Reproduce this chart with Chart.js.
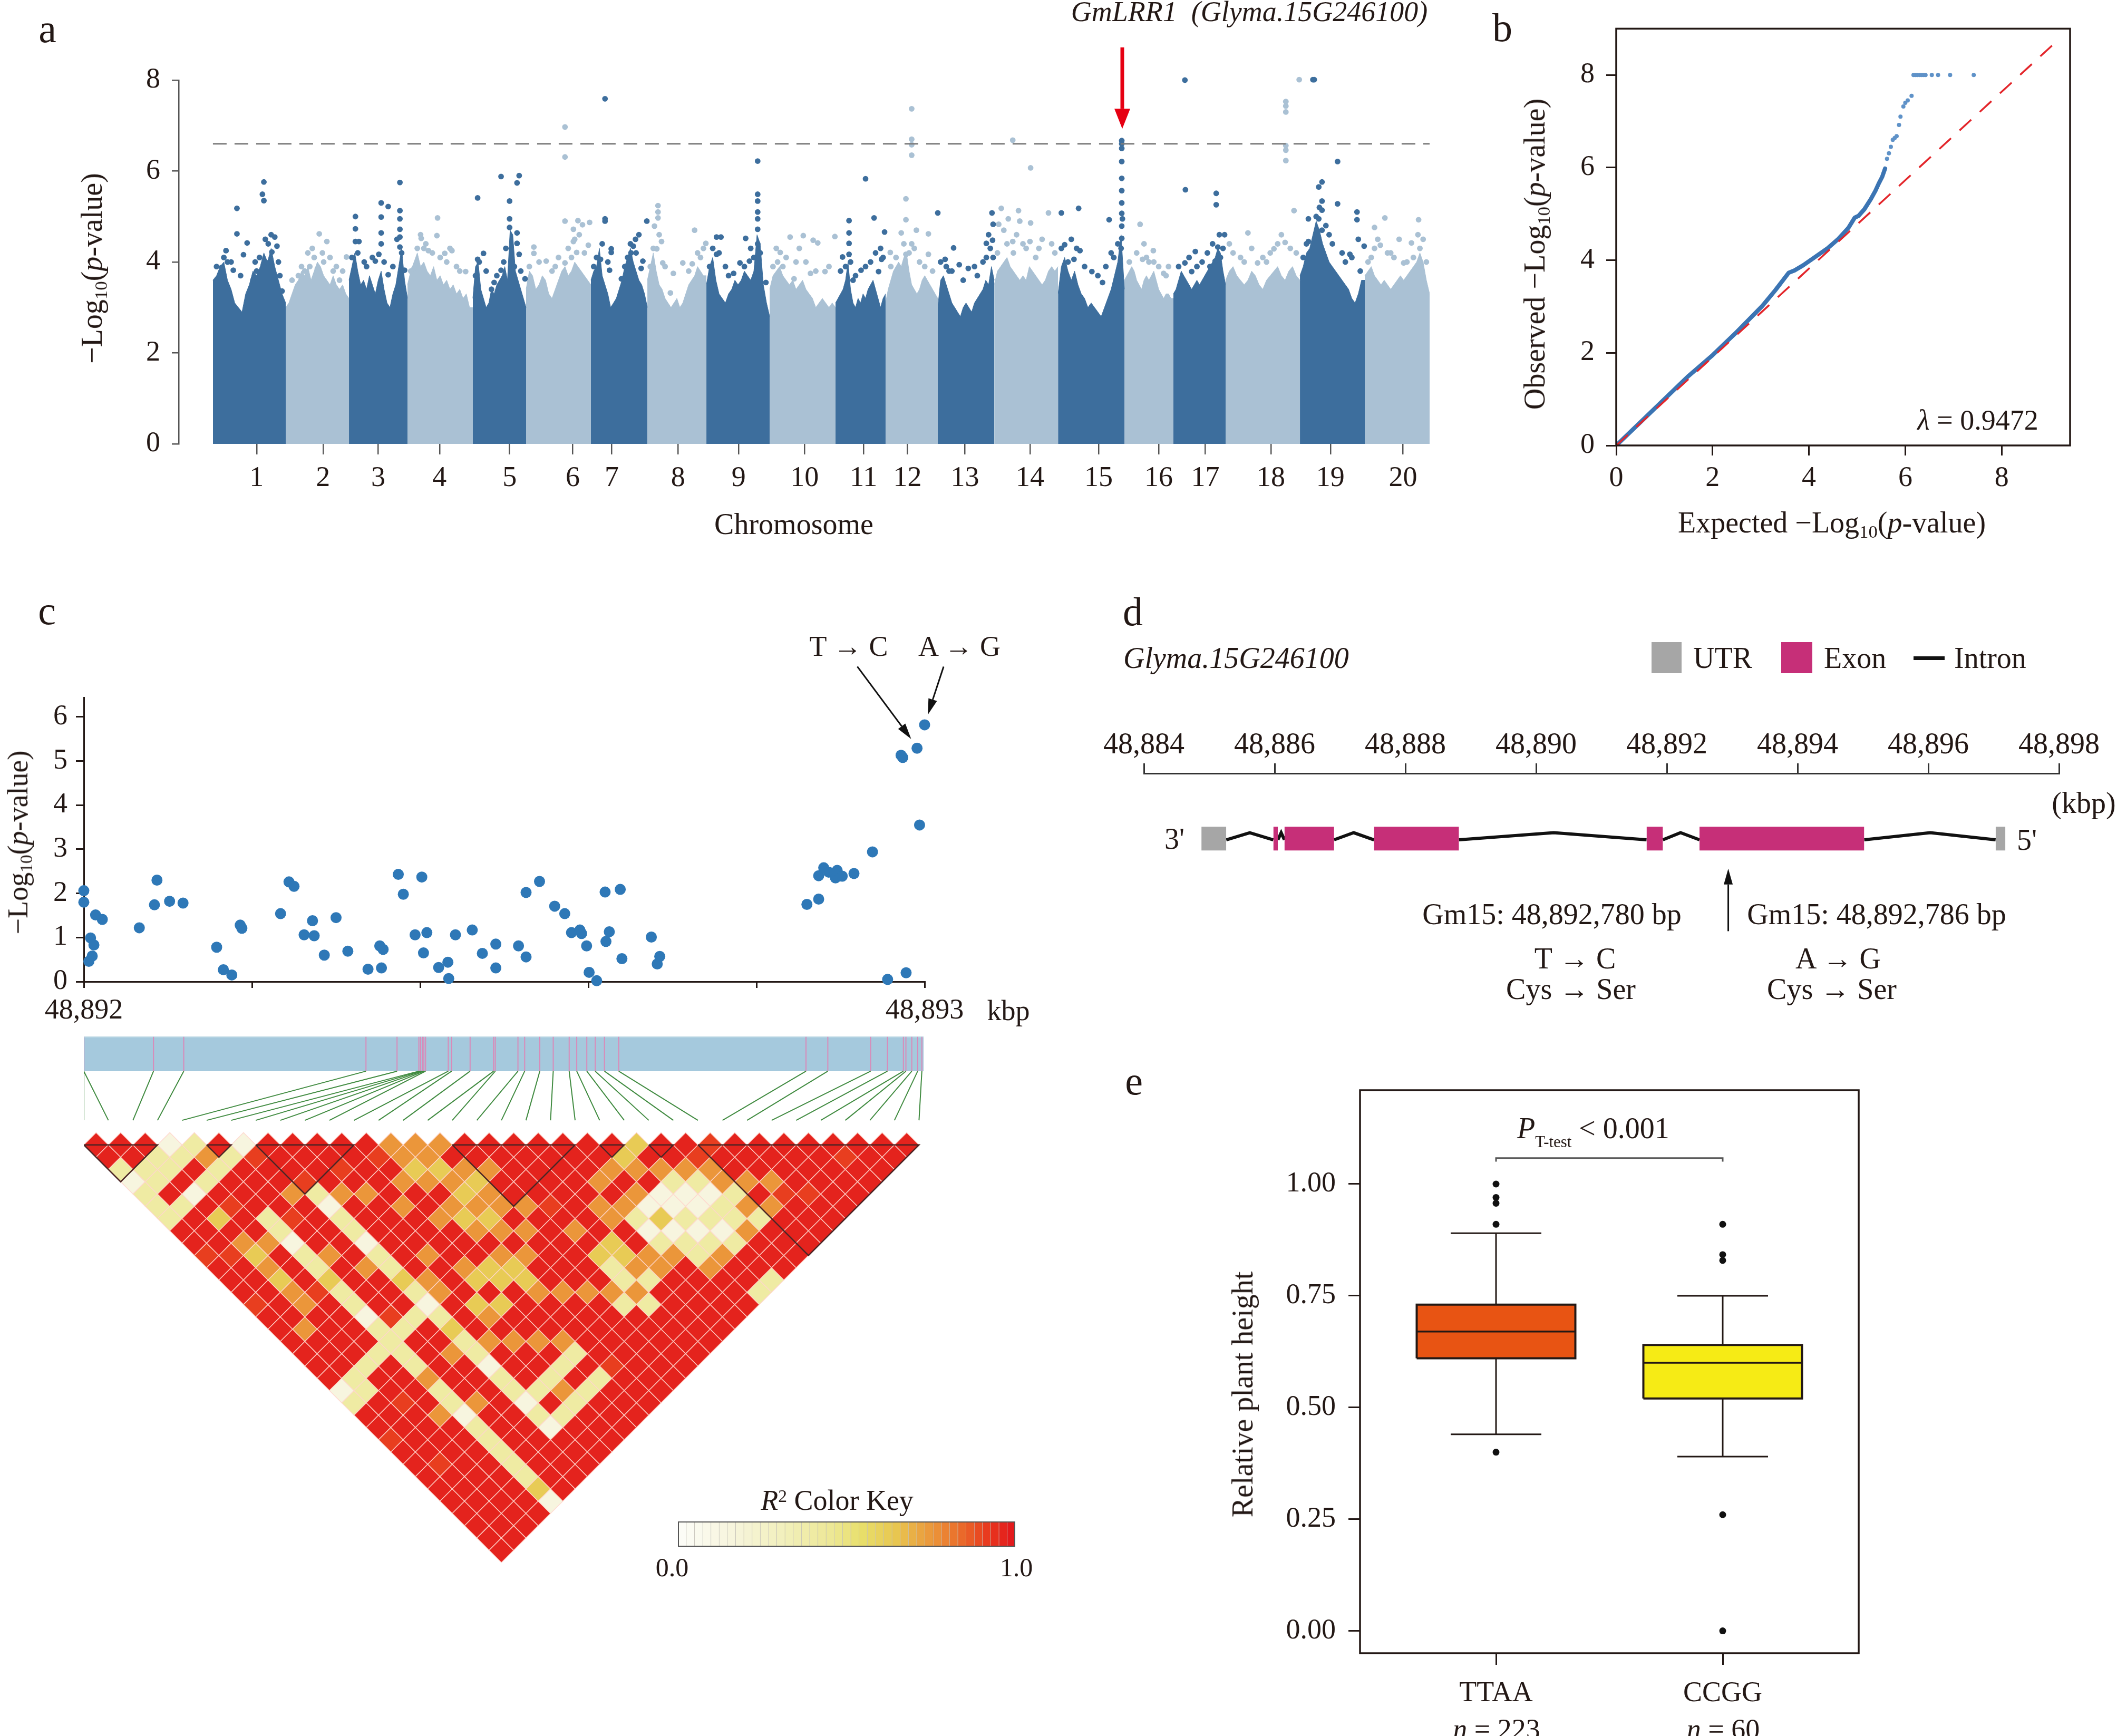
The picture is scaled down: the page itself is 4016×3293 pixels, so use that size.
<!DOCTYPE html>
<html>
<head>
<meta charset="utf-8">
<script src="https://cdn.jsdelivr.net/npm/chart.js@4.4.1/dist/chart.umd.min.js"></script>
<style>
html, body { margin: 0; padding: 0; background: #fff; }
#page { position: relative; width: 4016px; height: 3293px; overflow: hidden; background: #fff;
        font-family: 'Liberation Serif', 'Times New Roman', serif; color: #231815; }
canvas { position: absolute; }
.t { position: absolute; white-space: nowrap; line-height: 1; }
.t sub { font-size: 0.62em; vertical-align: -0.28em; line-height: 0; }
.t sup { font-size: 0.62em; vertical-align: 0.45em; line-height: 0; }
.t sub.s2 { font-size: 0.55em; vertical-align: -0.55em; }
.sw { position: absolute; }
</style>
</head>
<body>
<div id="page"></div>
<script>
// ---- panel a : Manhattan plot ----
const chrNames = ['1','2','3','4','5','6','7','8','9','10','11','12','13','14','15','16','17','18','19','20'];
const chrLen = [56.6, 49.2, 45.5, 50.8, 41.4, 50.4, 43.9, 45.9, 49.2, 51.2, 38.9, 40.6, 43.9, 49.6, 51.6, 38.1, 40.6, 57.8, 50.4, 50.4];
const chrTickFrac = [0.6, 0.59, 0.5, 0.49, 0.69, 0.72, 0.37, 0.52, 0.51, 0.53, 0.56, 0.42, 0.48, 0.56, 0.61, 0.7, 0.61, 0.61, 0.47, 0.59];
// top edge of the dense band, 21 samples along each chromosome
const chrEnvelope = [
  [3.6,3.7,3.9,4.0,3.6,3.4,3.1,3.0,2.9,3.3,3.5,3.8,3.7,3.9,4.2,4.0,4.3,3.9,3.6,3.3,3.1],
  [3.0,3.1,3.3,3.5,3.6,3.8,3.7,3.9,3.6,3.8,4.0,3.9,3.7,3.6,3.5,3.7,3.5,3.4,3.5,3.3,3.2],
  [3.6,3.9,4.2,3.8,3.5,3.6,3.4,3.7,3.5,3.3,3.6,3.8,3.4,3.1,3.0,3.3,3.5,3.9,4.3,3.6,3.2],
  [3.5,3.8,4.0,4.2,3.9,4.0,3.8,3.7,3.9,3.6,3.7,3.5,3.6,3.4,3.5,3.3,3.4,3.2,3.3,3.0,3.0],
  [3.2,3.9,4.0,3.4,3.2,3.0,3.1,3.4,3.3,3.5,3.6,3.7,3.9,3.6,4.7,4.6,3.8,3.6,3.4,3.2,3.0],
  [3.4,3.8,3.7,3.4,3.5,3.7,3.6,3.3,3.2,3.4,3.6,3.8,3.9,3.7,3.8,4.0,3.9,3.8,3.7,3.6,3.5],
  [3.6,3.8,3.9,4.3,3.7,3.5,3.3,3.0,3.1,3.2,3.4,3.6,3.9,4.1,4.3,4.0,3.8,3.6,3.5,3.3,3.0],
  [3.6,3.9,4.2,3.8,3.5,3.4,3.2,3.1,3.0,3.1,3.2,3.0,3.1,3.3,3.5,3.6,3.7,3.9,3.8,3.7,3.7],
  [3.5,3.9,4.1,3.6,3.3,3.2,3.1,3.3,3.4,3.6,3.5,3.6,3.8,3.7,3.6,3.8,4.6,4.4,3.5,3.1,2.8],
  [3.4,3.7,3.8,3.9,3.7,3.6,3.5,3.6,3.4,3.5,3.6,3.4,3.3,3.2,3.0,3.1,3.2,3.1,3.0,3.1,3.0],
  [3.1,3.2,3.3,3.4,3.6,4.0,3.4,3.1,3.0,3.2,3.1,3.3,3.2,3.4,3.5,3.6,3.4,3.2,3.0,3.2,3.3],
  [3.1,3.4,3.6,3.8,3.9,4.0,3.9,4.1,4.2,3.8,3.5,3.4,3.3,3.4,3.6,3.7,3.6,3.5,3.4,3.3,3.2],
  [3.0,3.6,3.7,3.5,3.3,3.1,3.0,2.9,2.8,3.0,3.1,3.0,2.9,3.1,3.2,3.3,3.4,3.6,3.5,3.9,3.6],
  [3.5,3.8,3.9,4.0,4.1,3.9,3.8,3.7,3.6,3.7,3.6,3.9,3.8,3.7,3.6,3.5,3.6,3.8,3.9,3.8,3.9],
  [3.3,3.9,4.1,3.8,3.6,3.8,3.5,3.3,3.2,3.0,3.1,3.0,2.9,2.8,3.0,3.2,3.4,3.7,4.0,4.6,3.4],
  [3.6,3.7,3.8,3.9,3.8,3.6,3.5,3.4,3.6,3.7,3.6,3.7,3.8,3.6,3.4,3.3,3.2,3.3,3.3,3.2,3.2],
  [3.3,3.4,3.6,3.8,3.7,3.6,3.5,3.4,3.5,3.6,3.5,3.6,3.7,3.8,3.9,4.0,4.1,4.3,4.2,3.8,3.5],
  [3.6,3.8,3.9,3.7,3.6,3.5,3.6,3.8,3.7,3.5,3.4,3.6,3.7,3.8,3.9,3.7,3.6,3.8,3.9,3.7,3.6],
  [3.7,3.9,4.2,4.3,4.6,4.9,4.7,4.4,4.2,4.0,3.9,3.8,3.7,3.6,3.5,3.4,3.2,3.1,3.3,3.6,3.6],
  [3.7,3.8,3.9,3.7,3.6,3.5,3.6,3.5,3.4,3.5,3.6,3.7,3.6,3.7,3.8,3.9,4.0,4.2,4.0,3.6,3.3]
];
// single SNPs above the band: [fraction along chromosome, -log10 p]
const chrPeaks = [
  [[.33,5.18],[.33,4.62],[.70,5.76],[.68,5.49],[.70,5.35],[.47,4.42],[.42,4.16],[.18,4.25],[.85,4.55],[.76,4.4],[.81,4.22],[.75,3.98],[.92,3.7],[.95,3.36],[.12,3.88],[.28,3.82],[.2,4.0],[.6,3.8],[.55,3.6],[.88,4.35],[.05,3.9],[.15,4.1],[.25,4.0],[.38,3.7],[.58,4.0],[.64,4.1],[.72,4.5],[.8,4.6],[.9,4.0]],
  [[.53,4.62],[.65,4.45],[.45,4.1],[.38,3.9],[.3,3.8],[.75,3.8],[.96,4.11],[.6,4.0],[.2,3.7],[.85,3.6],[.5,3.85],[.1,3.6],[.25,3.9],[.35,4.2],[.42,4.3],[.58,4.2],[.7,4.1],[.8,3.9],[.9,3.8]],
  [[.11,5.0],[.11,4.73],[.11,4.45],[.17,4.45],[.55,5.3],[.55,4.99],[.55,4.64],[.67,5.22],[.87,5.75],[.87,5.13],[.87,4.95],[.87,4.72],[.87,4.33],[.51,4.17],[.26,4.0],[.45,4.02],[.67,3.72],[.95,3.82],[.87,4.55],[.55,4.4],[.05,4.1],[.15,4.2],[.3,3.9],[.4,4.1],[.6,4.0],[.75,3.9],[.82,4.5],[.9,4.2]],
  [[.46,4.97],[.45,4.58],[.21,4.52],[.32,4.25],[.68,4.25],[.57,4.19],[.89,3.79],[.1,3.86],[.25,4.3],[.5,4.1],[.75,3.9],[.05,3.8],[.15,4.3],[.2,4.6],[.28,4.4],[.38,4.2],[.6,4.0],[.65,4.3],[.8,3.8]],
  [[.09,5.41],[.53,5.88],[.87,5.9],[.83,5.74],[.69,5.34],[.69,4.95],[.69,4.76],[.83,4.64],[.83,4.41],[.87,4.17],[.2,4.19],[.09,4.06],[.4,3.55],[.53,3.82],[.98,3.63],[.35,3.4],[.45,3.7],[.05,3.7],[.12,4.0],[.25,3.8],[.58,4.0],[.62,4.3],[.73,4.1],[.78,3.9],[.9,3.8]],
  [[.6,6.97],[.6,6.31],[.6,4.9],[.8,4.91],[.73,4.72],[.73,4.45],[.87,4.82],[.98,4.87],[.12,4.33],[.12,4.19],[.31,4.02],[.6,3.98],[.96,4.37],[.78,4.21],[.45,3.9],[.7,4.1],[.05,3.9],[.2,4.0],[.4,3.8],[.5,4.1],[.65,4.3],[.75,4.5],[.82,4.6],[.9,4.2]],
  [[.25,7.59],[.25,4.95],[.25,4.9],[.36,4.29],[.36,4.21],[.17,4.06],[.33,3.82],[.79,4.5],[.71,4.2],[.99,4.9],[.92,4.02],[.89,3.86],[.54,3.63],[.75,4.35],[.6,3.9],[.05,3.9],[.1,4.1],[.2,4.4],[.3,4.0],[.65,4.1],[.7,4.4],[.8,4.2],[.85,4.6]],
  [[.18,5.24],[.18,5.1],[.18,4.97],[.12,4.79],[.24,4.45],[.16,4.29],[.26,3.98],[.8,4.7],[.6,3.98],[.76,3.96],[.99,4.41],[.44,3.75],[.39,3.32],[.9,4.1],[.05,3.9],[.1,4.3],[.2,4.6],[.3,3.9],[.7,3.8],[.85,4.2],[.95,4.3]],
  [[.16,4.55],[.23,4.55],[.81,6.22],[.81,5.49],[.81,5.34],[.81,5.1],[.81,4.95],[.81,4.72],[.62,4.52],[.53,3.98],[.68,4.02],[.43,3.75],[.16,4.17],[.94,3.55],[.81,4.4],[.3,3.9],[.05,3.9],[.1,4.3],[.2,4.2],[.35,3.7],[.6,3.9],[.7,4.3],[.75,4.1],[.85,4.2]],
  [[.16,4.21],[.12,4.0],[.31,4.55],[.51,4.58],[.66,4.48],[.73,4.42],[.99,4.56],[.84,3.79],[.62,3.75],[.37,3.63],[.2,3.9],[.05,3.9],[.1,4.3],[.25,4.1],[.4,4.0],[.45,4.3],[.55,4.0],[.7,3.8],[.9,3.9]],
  [[.6,5.83],[.77,4.97],[.27,4.91],[.27,4.64],[.27,4.41],[.27,4.17],[.14,4.11],[.98,4.66],[.92,4.06],[.86,3.79],[.51,3.82],[.35,3.6],[.9,4.3],[.1,3.8],[.2,3.9],[.3,4.0],[.4,3.7],[.6,3.9],[.7,4.0],[.8,4.2],[.95,4.1]],
  [[.5,7.37],[.5,6.7],[.5,6.58],[.5,6.35],[.39,5.39],[.39,4.93],[.3,4.64],[.59,4.7],[.82,4.62],[.09,4.21],[.82,4.17],[.39,4.17],[.27,3.86],[.5,4.4],[.1,3.9],[.2,4.1],[.35,4.4],[.45,4.2],[.55,4.3],[.65,4.0],[.75,3.9],[.9,3.8]],
  [[.0,5.08],[.28,4.31],[.13,4.06],[.38,3.94],[.54,3.86],[.86,4.41],[.96,5.08],[.98,4.83],[.97,4.48],[.98,4.1],[.86,4.1],[.7,3.7],[.2,3.8],[.05,4.0],[.15,3.9],[.25,3.8],[.45,3.6],[.65,3.9],[.8,4.0],[.9,4.6],[.93,4.3]],
  [[.11,5.18],[.29,6.68],[.57,6.07],[.07,4.83],[.22,4.95],[.38,5.13],[.4,4.9],[.57,4.86],[.85,5.08],[.29,4.45],[.56,4.45],[.15,4.7],[.7,4.3],[.45,4.4],[.95,4.2],[.05,4.2],[.2,4.4],[.3,4.2],[.35,4.6],[.5,4.3],[.65,4.1],[.75,4.5],[.9,4.4]],
  [[.05,5.08],[.31,5.18],[.1,4.38],[.33,4.25],[.24,4.06],[.51,3.79],[.77,4.93],[.96,6.67],[.96,6.6],[.96,6.5],[.96,6.21],[.96,5.84],[.96,5.57],[.96,5.3],[.96,5.07],[.96,4.79],[.96,4.52],[.84,4.1],[.67,3.55],[.6,3.7],[.95,4.3],[.97,4.95],[.05,4.3],[.15,4.0],[.2,4.5],[.28,4.3],[.4,3.9],[.72,3.9],[.8,4.2],[.9,4.4]],
  [[.32,4.83],[.59,4.25],[.37,4.06],[.8,3.75],[.17,3.7],[.5,4.0],[.9,3.9],[.1,4.0],[.25,4.2],[.4,4.4],[.45,4.1],[.6,4.0],[.7,3.9],[.85,3.7]],
  [[.22,8.0],[.23,5.59],[.82,5.51],[.82,5.26],[.98,4.6],[.42,4.23],[.85,4.33],[.8,4.02],[.22,3.98],[.35,3.79],[.7,3.9],[.9,4.1],[.1,3.9],[.3,4.1],[.45,3.9],[.55,4.0],[.65,4.2],[.75,4.4],[.88,4.6],[.95,4.3]],
  [[.81,7.53],[.81,7.43],[.81,7.3],[.81,6.56],[.81,6.46],[.81,6.23],[.99,8.01],[.92,5.13],[.3,4.64],[.8,4.43],[.65,4.29],[.43,3.98],[.05,4.4],[.2,4.1],[.55,4.0],[.1,4.2],[.25,4.0],[.35,4.3],[.5,4.1],[.6,4.2],[.7,4.4],[.75,4.6],[.87,4.3],[.95,4.2]],
  [[.2,8.01],[.22,8.01],[.58,6.21],[.34,5.76],[.29,5.65],[.34,5.34],[.34,5.14],[.58,5.28],[.29,4.95],[.13,4.95],[.88,5.1],[.88,4.93],[.99,4.35],[.77,4.17],[.93,3.8],[.13,4.45],[.45,4.6],[.34,4.7],[.05,4.1],[.1,4.4],[.25,5.0],[.3,5.2],[.4,4.8],[.5,4.4],[.65,4.2],[.7,4.0],[.8,4.1],[.9,4.5]],
  [[.31,4.97],[.15,4.76],[.83,4.93],[.82,4.6],[.53,4.5],[.72,4.42],[.24,4.37],[.6,3.98],[.1,4.1],[.95,4.0],[.4,4.2],[.05,4.0],[.15,4.3],[.2,4.5],[.35,4.2],[.45,4.1],[.65,4.0],[.75,4.1],[.85,4.3],[.9,4.5]]
];
const manhattanTicks = [0, 2, 4, 6, 8];
const gwasThreshold = 6.6;
const leadSnp = { chr: 15, frac: 0.968, tip: 6.93, tail: 8.72 };

// ---- panel b : QQ plot ----
const qqExpected = [0, 0.5, 1.0, 1.5, 2.0, 2.5, 3.03, 3.3, 3.58, 3.7, 3.88, 4.1, 4.39, 4.6, 4.82, 4.95, 5.03, 5.15, 5.29, 5.38, 5.45, 5.52, 5.58];
const qqObserved = [0, 0.5, 1.0, 1.5, 1.95, 2.45, 3.01, 3.35, 3.73, 3.78, 3.89, 4.05, 4.26, 4.45, 4.7, 4.92, 4.96, 5.1, 5.33, 5.5, 5.66, 5.8, 5.98];
const qqTailExp = [5.62, 5.66, 5.7, 5.74, 5.78, 5.82, 5.87, 5.9, 5.96, 6.0, 6.05, 6.13, 6.17, 6.21, 6.25, 6.3, 6.34, 6.38, 6.42, 6.55, 6.68, 6.93, 7.42];
const qqTailObs = [6.19, 6.31, 6.45, 6.6, 6.64, 6.68, 6.92, 7.1, 7.32, 7.4, 7.45, 7.55, 8.0, 8.0, 8.0, 8.0, 8.0, 8.0, 8.0, 8.0, 8.0, 8.0, 8.0];
const qqRefEnd = [9.05, 8.64];
const qqTicks = [0, 2, 4, 6, 8];

// ---- panel c : regional plot (bp after 48,892 kbp) ----
const regionBp = [0,0,14,22,8,12,10,6,66,84,87,102,118,158,166,176,186,188,234,244,250,262,272,274,286,300,314,338,352,356,354,374,380,394,402,404,408,422,433,434,442,462,474,490,490,517,526,526,542,560,572,580,590,592,598,601,610,620,621,625,638,640,675,682,685,860,874,874,880,886,894,896,902,916,938,956,972,974,978,991,994,1000];
const regionLogP = [2.06,1.80,1.51,1.41,0.99,0.83,0.58,0.46,1.22,1.74,2.30,1.82,1.78,0.78,0.27,0.15,1.28,1.21,1.54,2.26,2.16,1.06,1.38,1.04,0.60,1.45,0.69,0.28,0.81,0.73,0.31,2.43,1.98,1.06,2.37,0.65,1.11,0.32,0.44,0.07,1.06,1.17,0.64,0.31,0.85,0.81,2.02,0.56,2.27,1.71,1.54,1.11,1.17,1.09,0.81,0.21,0.02,2.03,0.91,1.13,2.09,0.52,1.01,0.40,0.57,1.75,1.87,2.40,2.58,2.48,2.35,2.52,2.39,2.45,2.94,0.05,5.13,5.08,0.20,5.29,3.55,5.82];
const regionTicks = [0, 200, 400, 600, 800, 1000];
const regionLogTicks = [0, 1, 2, 3, 4, 5, 6];
const regionArrows = [[920, 7.14, 984, 5.5], [1022.6, 7.14, 1003.8, 6.05]];

// LD heatmap: 35 SNPs, row i lists pairs (i, i+1..34)
const ldSnpBp = [0,0,83,119,336,373,399,401,403,405,407,434,438,460,488,490,517,525,543,559,578,587,599,609,620,637,860,886,937,957,976,979,986,993,998];
const ldRows = [
  "RRywyyyRRrRRRrRRRRRRwyRRrRRRRRRRRR",
  "RRyyRyRRRrRRRRRoRRRyyRRRRRrRRRRRR",
  "RyyRwRgRogogooRRRRyRRrRRRRRRRRRR",
  "wyRyRrRRoRRRrRRRRyRRRRoRRRRRRRR",
  "yoyRRRyywyygyywyyyyoyywyyyyygw",
  "RyRRRRrRRoRRRRryRRRRRoRRRRRRR",
  "wrRRoRRRRRoRRRyRRoRRRRRRRRRR",
  "RRRrywyywyygywygyywyywywRRR",
  "RRRRoRRRRRRooRRRoRRRyRyRRR",
  "RRrRoRRRRoRRRgoRoRRyoyRRR",
  "RRRRRoRRRRogRgRRoRyRyRRR",
  "RrRoRRoRRRggRRRRoyRyRRR",
  "oogoRogoRoggoRRRRRrRRR",
  "oogogogoRoRRoRRRRRRRR",
  "oRogooRoRRRRoRRRRRRR",
  "RRoRRoRRRRRRoyRRRRR",
  "RRRRRrRoRgyyoyRRRR",
  "RRRRRRRRggoyRRRRR",
  "RRRRRooRRooRRRRR",
  "RRRoRoywyoRRRRR",
  "RRoRowgwyyoRRR",
  "RgoRwwywyoRRy",
  "gRoywwywyRRy",
  "RRoywyyoRRR",
  "RrooyoyRRR",
  "rRRoRoRRR",
  "RRRorRRR",
  "RRRRrRR",
  "RRRRRR",
  "RRRRR",
  "RrRR",
  "RRR",
  "RR",
  "R"
];
const ldLevelR2 = { R: 0.98, r: 0.92, o: 0.76, g: 0.63, y: 0.4, w: 0.14 };
const ldBlocks = [[0, 3], [5, 6], [7, 11], [15, 20], [21, 22], [23, 24], [25, 34]];
const keyLevels = [0,0.025,0.05,0.075,0.1,0.125,0.15,0.175,0.2,0.225,0.25,0.275,0.3,0.325,0.35,0.375,0.4,0.425,0.45,0.475,0.5,0.525,0.55,0.575,0.6,0.625,0.65,0.675,0.7,0.725,0.75,0.775,0.8,0.825,0.85,0.875,0.9,0.925,0.95,0.975,1];

// ---- panel d : gene model (kbp) ----
const geneTicks = [48884, 48886, 48888, 48890, 48892, 48894, 48896, 48898];
const geneUtr = [[48884.88, 48885.26], [48897.03, 48897.18]];
const geneExons = [[48885.98, 48886.05], [48886.15, 48886.91], [48887.52, 48888.82], [48891.69, 48891.94], [48892.50, 48895.02]];
const geneIntrons = [[48885.26, 48885.62, 48885.98], [48886.05, 48886.10, 48886.15], [48886.91, 48887.21, 48887.52],
                     [48888.82, 48890.27, 48891.69], [48891.94, 48892.21, 48892.50], [48895.02, 48896.03, 48897.03]];
const snpArrowKbp = 48892.94;

// ---- panel e : box plot ----
const groups = ['TTAA', 'CCGG'];
const groupN = [223, 60];
const boxQ1 = [0.61, 0.52];
const boxMed = [0.67, 0.60];
const boxQ3 = [0.73, 0.64];
const whiskLo = [0.44, 0.39];
const whiskHi = [0.89, 0.75];
const outliers = [[1.00, 0.97, 0.957, 0.91, 0.40], [0.91, 0.842, 0.829, 0.26, 0.00]];
const heightTicks = [0, 0.25, 0.5, 0.75, 1.0];
const bracketY = [1.05, 1.058];

// ---------------------------------------------------------------
const INK = '#231815';
const DARK = '#3d6e9d', LIGHT = '#aac1d4';
const page = document.getElementById('page');

Chart.defaults.font.family = "'Liberation Serif', 'Times New Roman', serif";
Chart.defaults.color = INK;
Chart.defaults.animation = false;
Chart.defaults.plugins.legend.display = false;
Chart.defaults.plugins.tooltip.enabled = false;

function makeCanvas(left, top, w, h) {
  const c = document.createElement('canvas');
  c.width = w; c.height = h;
  c.style.left = left + 'px'; c.style.top = top + 'px';
  c.style.width = w + 'px'; c.style.height = h + 'px';
  page.appendChild(c);
  return c;
}

function txt(html, x, y, size, opts = {}) {
  const d = document.createElement('div');
  d.className = 't';
  d.innerHTML = html;
  d.style.fontSize = size + 'px';
  d.style.left = x + 'px';
  d.style.top = y + 'px';
  const ax = opts.align === 'left' ? '0' : (opts.align === 'right' ? '-100%' : '-50%');
  let tr = `translate(${ax},-50%)`;
  if (opts.rotate) tr += ` rotate(${opts.rotate}deg)`;
  d.style.transform = tr;
  if (opts.italic) d.style.fontStyle = 'italic';
  page.appendChild(d);
}

function swatch(x, y, w, h, color) {
  const d = document.createElement('div');
  d.className = 'sw';
  Object.assign(d.style, { left: x + 'px', top: y + 'px', width: w + 'px', height: h + 'px', background: color });
  page.appendChild(d);
}

const fixedTicks = list => s => { s.ticks = list.map(v => ({ value: v })); };

function arrow(ctx, x1, y1, x2, y2, color, lw, hl, hw) {
  const a = Math.atan2(y2 - y1, x2 - x1);
  const bx = x2 - Math.cos(a) * hl, by = y2 - Math.sin(a) * hl;
  ctx.save();
  ctx.strokeStyle = color; ctx.fillStyle = color; ctx.lineWidth = lw;
  ctx.beginPath(); ctx.moveTo(x1, y1); ctx.lineTo(bx, by); ctx.stroke();
  ctx.beginPath();
  ctx.moveTo(x2, y2);
  ctx.lineTo(bx + Math.sin(a) * hw / 2, by - Math.cos(a) * hw / 2);
  ctx.lineTo(bx - Math.sin(a) * hw / 2, by + Math.cos(a) * hw / 2);
  ctx.closePath(); ctx.fill();
  ctx.restore();
}

const framePlugin = {
  id: 'frame',
  afterDatasetsDraw(ch) {
    const a = ch.chartArea, c = ch.ctx;
    c.save(); c.strokeStyle = INK; c.lineWidth = 3.5;
    c.strokeRect(a.left, a.top, a.right - a.left, a.bottom - a.top);
    c.restore();
  }
};

// R^2 -> colour, same ramp as the colour key
const r2Stops = [[0, [252,252,246]], [0.15, [247,245,221]], [0.3, [242,240,190]], [0.45, [237,232,150]], [0.55, [232,222,105]],
                 [0.65, [232,198,80]], [0.76, [235,150,58]], [0.86, [234,100,40]], [0.93, [232,56,30]], [1, [227,26,28]]];
function colorFor(v) {
  for (let k = 1; k < r2Stops.length; k++) {
    if (v <= r2Stops[k][0]) {
      const [v0, c0] = r2Stops[k - 1], [v1, c1] = r2Stops[k];
      const t = (v - v0) / (v1 - v0);
      return `rgb(${c0.map((c, n) => Math.round(c + (c1[n] - c) * t)).join(',')})`;
    }
  }
  return 'rgb(227,26,28)';
}

// ================= panel a =================
const chrStart = [];
let acc = 0;
chrLen.forEach(l => { chrStart.push(acc); acc += l; });
const genomeLen = acc;

const aSets = [];
chrLen.forEach((len, c) => {
  const col = c % 2 === 0 ? DARK : LIGHT;
  const env = chrEnvelope[c];
  aSets.push({
    data: env.map((v, k) => ({ x: chrStart[c] + len * k / (env.length - 1), y: v })),
    fill: 'origin', backgroundColor: col, borderColor: col, borderWidth: 1, pointRadius: 0, order: 2
  });
  aSets.push({
    data: chrPeaks[c].map(([f, v]) => ({ x: chrStart[c] + f * len, y: v })),
    showLine: false, pointRadius: 5.4, pointBackgroundColor: col, pointBorderWidth: 0, clip: false, order: 1
  });
});
aSets.push({
  data: [{ x: 0, y: gwasThreshold }, { x: genomeLen, y: gwasThreshold }],
  borderColor: '#7d7d7d', borderWidth: 3, borderDash: [26, 15], pointRadius: 0, order: 0
});

const leadArrow = {
  id: 'leadArrow',
  afterDatasetsDraw(ch) {
    const c = leadSnp.chr - 1;
    const x = ch.scales.x.getPixelForValue(chrStart[c] + leadSnp.frac * chrLen[c]);
    arrow(ch.ctx, x, ch.scales.y.getPixelForValue(leadSnp.tail), x, ch.scales.y.getPixelForValue(leadSnp.tip), '#e60012', 7, 38, 30);
  }
};

new Chart(makeCanvas(0, 0, 2760, 1050), {
  type: 'line',
  data: { datasets: aSets },
  options: {
    responsive: false,
    layout: { padding: { left: 139, right: 48, top: 152, bottom: 58 } },
    scales: {
      x: {
        type: 'linear', min: -26.6, max: genomeLen,
        afterBuildTicks: s => { s.ticks = chrStart.map((st, c) => ({ value: st + chrTickFrac[c] * chrLen[c] })); },
        ticks: { autoSkip: false, maxRotation: 0, font: { size: 54 }, padding: 13, callback: (v, i) => chrNames[i] },
        grid: { drawOnChartArea: false, tickLength: 20, color: '#555', lineWidth: 2.5 },
        border: { display: false },
        afterFit: s => { s.height = 150; }
      },
      y: {
        min: 0, max: 8,
        afterBuildTicks: fixedTicks(manhattanTicks),
        ticks: { font: { size: 54 }, padding: 22 },
        grid: { drawOnChartArea: false, tickLength: 13, color: '#555', lineWidth: 2.5 },
        border: { display: true, color: '#555', width: 2.5 },
        afterFit: s => { s.width = 200; }
      }
    }
  },
  plugins: [leadArrow]
});

// ================= panel b =================
new Chart(makeCanvas(2800, 0, 1216, 1050), {
  type: 'line',
  data: {
    datasets: [
      { data: [{ x: 0, y: 0 }, { x: qqRefEnd[0], y: qqRefEnd[1] }], borderColor: '#e3262b', borderWidth: 3.5,
        borderDash: [30, 22], pointRadius: 0, order: 0 },
      { data: qqExpected.map((v, k) => ({ x: v, y: qqObserved[k] })), borderColor: '#3b74b3', borderWidth: 8,
        borderCapStyle: 'round', borderJoinStyle: 'round', pointRadius: 0, order: 1 },
      { data: qqTailExp.map((v, k) => ({ x: v, y: qqTailObs[k] })), showLine: false, pointRadius: 4,
        pointBackgroundColor: '#5f92c8', pointBorderWidth: 0, clip: false, order: 1 }
    ]
  },
  options: {
    responsive: false,
    layout: { padding: { left: 116, right: 89, top: 21, bottom: 55 } },
    scales: {
      x: {
        type: 'linear', min: 0, max: 9.42,
        afterBuildTicks: fixedTicks(qqTicks),
        ticks: { font: { size: 54 }, padding: 11 },
        grid: { drawOnChartArea: false, tickLength: 19, color: INK, lineWidth: 3 },
        border: { display: false },
        afterFit: s => { s.height = 150; }
      },
      y: {
        min: 0, max: 9.0,
        afterBuildTicks: fixedTicks(qqTicks),
        ticks: { font: { size: 54 }, padding: 22 },
        grid: { drawOnChartArea: false, tickLength: 19, color: INK, lineWidth: 3 },
        border: { display: false },
        afterFit: s => { s.width = 150; }
      }
    }
  },
  plugins: [framePlugin]
});

// ================= panel c, association scatter =================
const cArrows = {
  id: 'cArrows',
  afterDatasetsDraw(ch) {
    const { x, y } = ch.scales;
    regionArrows.forEach(([x1, y1, x2, y2]) => {
      arrow(ch.ctx, x.getPixelForValue(x1), y.getPixelForValue(y1), x.getPixelForValue(x2), y.getPixelForValue(y2), '#111', 3, 30, 17);
    });
  }
};

new Chart(makeCanvas(0, 1120, 2000, 860), {
  type: 'line',
  data: {
    datasets: [{
      data: regionBp.map((v, k) => ({ x: v, y: regionLogP[k] })),
      showLine: false, pointRadius: 10.5, pointBackgroundColor: '#2e78b7', pointBorderWidth: 0, clip: false
    }]
  },
  options: {
    responsive: false,
    layout: { padding: { left: 29, right: 246, top: 203, bottom: 18 } },
    scales: {
      x: {
        type: 'linear', min: 0, max: 1000,
        afterBuildTicks: fixedTicks(regionTicks),
        ticks: { font: { size: 54 }, padding: 11, maxRotation: 0, autoSkip: false,
                 callback: v => v === 0 ? '48,892' : (v === 1000 ? '48,893' : '') },
        grid: { drawOnChartArea: false, tickLength: 12, color: INK, lineWidth: 3 },
        border: { display: true, color: INK, width: 3 },
        afterFit: s => { s.height = 100; }
      },
      y: {
        min: 0, max: 6.44,
        afterBuildTicks: fixedTicks(regionLogTicks),
        ticks: { font: { size: 54 }, padding: 16 },
        grid: { drawOnChartArea: false, tickLength: 15, color: INK, lineWidth: 3 },
        border: { display: true, color: INK, width: 3 },
        afterFit: s => { s.width = 130; }
      }
    }
  },
  plugins: [cArrows]
});

// ================= panel c, SNP track + LD heatmap =================
const cells = [];
ldRows.forEach((row, i) => {
  [...row].forEach((ch, k) => {
    const j = i + k + 1;
    cells.push({ x: (i + j) / 2, y: j - i, r2: ldLevelR2[ch] });
  });
});

const snpMarks = [];
ldSnpBp.forEach(p => { snpMarks.push({ x: p, y: -7.8 }, { x: p, y: -5 }, { x: p, y: null }); });

const ldSets = [
  { xAxisID: 'x', data: [{ x: 0, y: -7.8 }, { x: 1000, y: -7.8 }], fill: { value: -5 },
    backgroundColor: '#a5c9dd', borderColor: '#c9dfe9', borderWidth: 2, pointRadius: 0, order: 3 },
  { xAxisID: 'x', data: snpMarks, borderColor: '#d98ab9', borderWidth: 2, pointRadius: 0, order: 2 },
  { xAxisID: 'xi', data: cells, showLine: false, pointStyle: 'rectRot', clip: false, order: 1,
    pointRadius: ctx => Math.abs(ctx.chart.scales.xi.getPixelForValue(0.5) - ctx.chart.scales.xi.getPixelForValue(0)),
    pointBackgroundColor: cells.map(c => colorFor(c.r2)),
    pointBorderColor: 'rgba(255,214,204,0.85)', pointBorderWidth: 1.5 }
];
ldBlocks.forEach(([a, b]) => {
  ldSets.push({ xAxisID: 'xi', data: [{ x: a, y: 1 }, { x: b, y: 1 }, { x: (a + b) / 2, y: b - a + 1 }, { x: a, y: 1 }],
    borderColor: '#4a2323', borderWidth: 2.5, pointRadius: 0, order: 0 });
});

const greenLinks = {
  id: 'greenLinks',
  afterDatasetsDraw(ch) {
    const { x, xi, y } = ch.scales, c = ch.ctx;
    c.save(); c.strokeStyle = '#3f8a3f'; c.lineWidth = 2;
    ldSnpBp.forEach((p, k) => {
      c.beginPath();
      c.moveTo(x.getPixelForValue(p), y.getPixelForValue(-5));
      c.lineTo(xi.getPixelForValue(k), y.getPixelForValue(-1));
      c.stroke();
    });
    c.restore();
  }
};

new Chart(makeCanvas(159, 1962, 1593, 1002), {
  type: 'line',
  data: { datasets: ldSets },
  options: {
    responsive: false,
    layout: { padding: 0 },
    scales: {
      x: { type: 'linear', axis: 'x', position: 'bottom', min: 0, max: 1000, display: false },
      xi: { type: 'linear', axis: 'x', position: 'bottom', min: 0, max: 34.185, display: false },
      y: { type: 'linear', min: -8, max: 35, reverse: true, display: false }
    }
  },
  plugins: [greenLinks]
});

// colour key
new Chart(makeCanvas(1286, 2886, 640, 48), {
  type: 'bar',
  data: {
    labels: keyLevels.map(String),
    datasets: [{ data: keyLevels.map(() => 1), backgroundColor: keyLevels.map(colorFor),
                 borderColor: 'rgba(90,80,60,0.35)', borderWidth: { left: 1, right: 0, top: 0, bottom: 0 },
                 borderSkipped: false, barPercentage: 1, categoryPercentage: 1 }]
  },
  options: {
    responsive: false,
    layout: { padding: 0 },
    scales: { x: { display: false }, y: { display: false, min: 0, max: 1 } }
  },
  plugins: [{
    id: 'keyFrame',
    afterDatasetsDraw(ch) {
      const a = ch.chartArea, c = ch.ctx;
      c.save(); c.strokeStyle = '#555'; c.lineWidth = 2;
      c.strokeRect(a.left + 1, a.top + 1, a.right - a.left - 2, a.bottom - a.top - 2);
      c.restore();
    }
  }]
});

// ================= panel d =================
const dSets = [];
geneIntrons.forEach(([s, m, e]) => {
  dSets.push({ data: [{ x: s, y: -0.1 }, { x: m, y: 0.5 }, { x: e, y: -0.1 }], borderColor: '#111', borderWidth: 6,
               pointRadius: 0, order: 2 });
});
geneUtr.forEach(([s, e]) => {
  dSets.push({ data: [{ x: s, y: 1 }, { x: e, y: 1 }], fill: { value: -1 }, backgroundColor: '#a6a6a6',
               borderWidth: 0, pointRadius: 0, order: 1 });
});
geneExons.forEach(([s, e]) => {
  dSets.push({ data: [{ x: s, y: 1 }, { x: e, y: 1 }], fill: { value: -1 }, backgroundColor: '#c62f78',
               borderWidth: 0, pointRadius: 0, order: 1 });
});

const dArrow = {
  id: 'dArrow',
  afterDatasetsDraw(ch) {
    const x = ch.scales.x.getPixelForValue(snpArrowKbp);
    arrow(ch.ctx, x, ch.scales.y.getPixelForValue(-7.8), x, ch.scales.y.getPixelForValue(-2.53), '#111', 3, 30, 17);
  }
};

new Chart(makeCanvas(2050, 1300, 1966, 500), {
  type: 'line',
  data: { datasets: dSets },
  options: {
    responsive: false,
    layout: { padding: { left: 120, right: 110, top: 0, bottom: 150 } },
    scales: {
      x: {
        type: 'linear', position: 'top', min: 48884, max: 48898,
        afterBuildTicks: fixedTicks(geneTicks),
        ticks: { font: { size: 56 }, padding: 0, maxRotation: 0, callback: v => v.toLocaleString('en-US') },
        grid: { drawOnChartArea: false, tickLength: 19, color: '#333', lineWidth: 3 },
        border: { display: true, color: '#333', width: 3 },
        afterFit: s => { s.height = 167; }
      },
      y: { min: -2.63, max: 5.5, display: false }
    }
  },
  plugins: [dArrow]
});

// ================= panel e =================
const eSets = [];
groups.forEach((g, k) => {
  const c = k + 1, hw = 0.35, cap = 0.2;
  const fillCol = k === 0 ? '#e85413' : '#f6eb15';
  eSets.push({ data: [{ x: c - hw, y: boxQ3[k] }, { x: c + hw, y: boxQ3[k] }], fill: { value: boxQ1[k] },
               backgroundColor: fillCol, borderWidth: 0, pointRadius: 0, order: 3 });
  eSets.push({ data: [{ x: c - hw, y: boxQ1[k] }, { x: c - hw, y: boxQ3[k] }, { x: c + hw, y: boxQ3[k] },
                      { x: c + hw, y: boxQ1[k] }, { x: c - hw, y: boxQ1[k] }],
               borderColor: INK, borderWidth: 4, pointRadius: 0, order: 1 });
  eSets.push({ data: [{ x: c - hw, y: boxMed[k] }, { x: c + hw, y: boxMed[k] }], borderColor: INK, borderWidth: 3.5,
               pointRadius: 0, order: 1 });
  eSets.push({ data: [{ x: c, y: boxQ3[k] }, { x: c, y: whiskHi[k] }, { x: c, y: null },
                      { x: c - cap, y: whiskHi[k] }, { x: c + cap, y: whiskHi[k] }, { x: c, y: null },
                      { x: c, y: boxQ1[k] }, { x: c, y: whiskLo[k] }, { x: c, y: null },
                      { x: c - cap, y: whiskLo[k] }, { x: c + cap, y: whiskLo[k] }],
               borderColor: INK, borderWidth: 3, pointRadius: 0, order: 2 });
  eSets.push({ data: outliers[k].map(v => ({ x: c, y: v })), showLine: false, pointRadius: 6.5,
               pointBackgroundColor: '#111', pointBorderWidth: 0, order: 0 });
});
eSets.push({ data: [{ x: 1, y: bracketY[0] }, { x: 1, y: bracketY[1] }, { x: 2, y: bracketY[1] }, { x: 2, y: bracketY[0] }],
             borderColor: '#555', borderWidth: 3, pointRadius: 0, order: 0 });

new Chart(makeCanvas(2100, 2000, 1916, 1293), {
  type: 'line',
  data: { datasets: eSets },
  options: {
    responsive: false,
    layout: { padding: { left: 280, right: 490, top: 68, bottom: 37 } },
    scales: {
      x: {
        type: 'linear', min: 0.4, max: 2.6,
        afterBuildTicks: fixedTicks([1, 2]),
        ticks: { font: { size: 54 }, padding: 22, callback: (v, i) => groups[i] },
        grid: { drawOnChartArea: false, tickLength: 22, color: INK, lineWidth: 3 },
        border: { display: false },
        afterFit: s => { s.height = 120; }
      },
      y: {
        min: -0.05, max: 1.21,
        afterBuildTicks: fixedTicks(heightTicks),
        ticks: { font: { size: 54 }, padding: 24, callback: v => v.toFixed(2) },
        grid: { drawOnChartArea: false, tickLength: 22, color: INK, lineWidth: 3 },
        border: { display: false },
        afterFit: s => { s.width = 200; }
      }
    }
  },
  plugins: [framePlugin]
});

// ================= text =================
txt('a', 90, 54, 76); txt('b', 2850, 52, 76); txt('c', 89, 1158, 76); txt('d', 2149, 1160, 76); txt('e', 2151, 2050, 76);

txt('−Log<sub>10</sub>(<i>p</i>-value)', 174, 509, 56, { rotate: -90 });
txt('Chromosome', 1506, 994, 56);
txt('GmLRR1&nbsp;&nbsp;(Glyma.15G246100)', 2370, 22, 54, { italic: true });

txt('Observed −Log<sub>10</sub>(<i>p</i>-value)', 2911, 482, 56, { rotate: -90 });
txt('Expected −Log<sub>10</sub>(<i>p</i>-value)', 3475, 991, 56);
txt('<i>λ</i> = 0.9472', 3752, 797, 54);

txt('−Log<sub>10</sub>(<i>p</i>-value)', 34, 1598, 54, { rotate: -90 });
txt('T → C', 1610, 1226, 54);
txt('A → G', 1820, 1226, 54);
txt('kbp', 1913, 1917, 54);
txt('<i>R</i><sup>2</sup> Color Key', 1588, 2846, 54);
txt('0.0', 1275, 2973, 50);
txt('1.0', 1928, 2973, 50);

txt('Glyma.15G246100', 2131, 1248, 56, { align: 'left', italic: true });
swatch(3133, 1218, 57, 59, '#a6a6a6');
txt('UTR', 3212, 1248, 56, { align: 'left' });
swatch(3379, 1218, 59, 59, '#c62f78');
txt('Exon', 3460, 1248, 56, { align: 'left' });
swatch(3630, 1245, 59, 7, '#111');
txt('Intron', 3707, 1248, 56, { align: 'left' });
txt('(kbp)', 3953, 1523, 56);
txt("3'", 2228, 1591, 56);
txt("5'", 3845, 1593, 56);
txt('Gm15: 48,892,780 bp', 2944, 1734, 56);
txt('Gm15: 48,892,786 bp', 3560, 1734, 56);
txt('T → C', 2988, 1818, 56);
txt('Cys → Ser', 2980, 1876, 56);
txt('A → G', 3487, 1818, 56);
txt('Cys → Ser', 3475, 1876, 56);

txt('Relative plant height', 2357, 2645, 56, { rotate: -90 });
txt('<i>P</i><sub class="s2">T-test</sub> &lt; 0.001', 2878, 2140, 56, { align: 'left' });
groups.forEach((g, k) => txt(`<i>n</i> = ${groupN[k]}`, k === 0 ? 2839 : 3269, 3280, 54));
</script>
</body>
</html>
